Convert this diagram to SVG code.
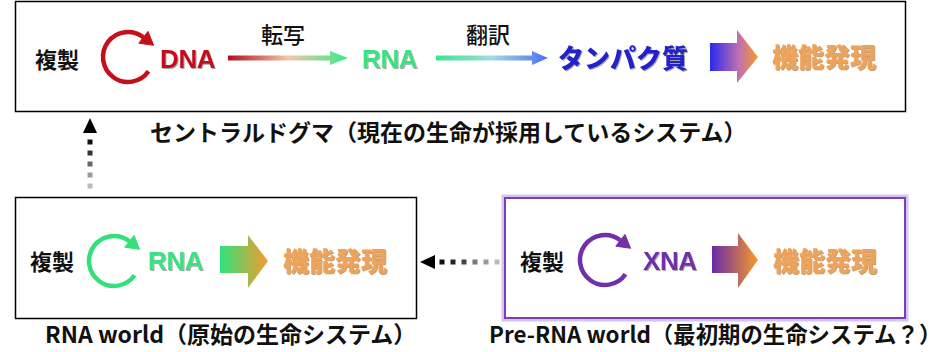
<svg xmlns="http://www.w3.org/2000/svg" width="952" height="352" viewBox="0 0 952 352">
<style>
.box{fill:#fff;stroke:#000;stroke-width:1.5}
.jp{font-family:"Noto Sans CJK JP","Noto Sans",sans-serif;font-weight:700;fill:#111}
.lbl{font-size:22px}
.med{font-weight:500}
.cap{font-size:23px}
.na{font-family:"Liberation Sans",Arial,sans-serif;font-weight:700;font-size:26px;letter-spacing:-0.4px}
.fx{font-family:"Noto Sans CJK JP","Noto Sans",sans-serif;font-weight:900;font-size:26px;fill:#eea35a}
.prot{font-family:"Noto Sans CJK JP","Noto Sans",sans-serif;font-weight:900;font-size:26px;fill:#2020c8}
</style>
<defs>
<filter id="sh" x="-10%" y="-20%" width="130%" height="150%">
<feDropShadow dx="1" dy="1" stdDeviation="0.7" flood-color="#000" flood-opacity="0.35"/>
</filter>
<filter id="shO" x="-10%" y="-20%" width="130%" height="150%">
<feDropShadow dx="1" dy="1" stdDeviation="0.6" flood-color="#a05a10" flood-opacity="0.6"/>
</filter>
<g id="cyc">
<path d="M20.5,14.3 A25,25 0 1 1 15.4,-19.7" fill="none" stroke="currentColor" stroke-width="4.5"/>
<polygon points="10.8,-13.8 20.0,-25.6 25.6,-11.7" fill="currentColor" stroke="currentColor" stroke-width="1" stroke-linejoin="round"/>
</g>
<linearGradient id="g1" gradientUnits="userSpaceOnUse" x1="228" y1="0" x2="348" y2="0">
<stop offset="0" stop-color="#b0101c"/>
<stop offset="0.5" stop-color="#f2c8a8"/>
<stop offset="1" stop-color="#38e88a"/>
</linearGradient>
<linearGradient id="g2" gradientUnits="userSpaceOnUse" x1="436" y1="0" x2="548" y2="0">
<stop offset="0" stop-color="#38e88a"/>
<stop offset="0.5" stop-color="#a8d8e0"/>
<stop offset="1" stop-color="#4a6ef0"/>
</linearGradient>
<linearGradient id="gb" x1="0" y1="0" x2="1" y2="0">
<stop offset="0" stop-color="#2a28f0"/>
<stop offset="0.6" stop-color="#c070b0"/>
<stop offset="1" stop-color="#f79a2c"/>
</linearGradient>
<linearGradient id="gg" x1="0" y1="0" x2="1" y2="0">
<stop offset="0" stop-color="#30e27c"/>
<stop offset="1" stop-color="#f79a2c"/>
</linearGradient>
<linearGradient id="gp" x1="0" y1="0" x2="1" y2="0">
<stop offset="0" stop-color="#6a2aa8"/>
<stop offset="1" stop-color="#f79a2c"/>
</linearGradient>
</defs>

<g id="central-dogma">
<rect class="box" x="15.5" y="1.5" width="890" height="110"/>
<text class="jp lbl" x="35" y="68">複製</text>
<use href="#cyc" x="128" y="57" style="color:#c4101c"/>
<text class="na" x="160" y="68" fill="#c4101c" filter="url(#sh)">DNA</text>
<text class="jp lbl med" x="283" y="43" text-anchor="middle">転写</text>
<text class="na" x="362" y="68" fill="#3ce080" filter="url(#sh)">RNA</text>
<text class="jp lbl med" x="488" y="43" text-anchor="middle">翻訳</text>
<text class="prot" x="558" y="68" filter="url(#sh)">タンパク質</text>
<polygon points="710,43 737,43 737,30 758,57 737,83 737,71 710,71" fill="url(#gb)"/>
<text class="fx" x="772" y="67" filter="url(#shO)">機能発現</text>
</g>

<g id="rna-world">
<rect class="box" x="15.5" y="197.5" width="401" height="121"/>
<text class="jp lbl" x="30" y="270">複製</text>
<use href="#cyc" x="114" y="261" style="color:#33e07a"/>
<text class="na" x="148" y="270" fill="#3ce080" filter="url(#sh)">RNA</text>
<polygon points="220,246 248,246 248,235 268,261 248,288 248,273 220,273" fill="url(#gg)"/>
<text class="fx" x="283" y="271" filter="url(#shO)">機能発現</text>
</g>

<g id="pre-rna-world">
<rect x="505" y="198" width="400" height="120" fill="none" stroke="#d6c4ee" stroke-width="7"/>
<rect x="505" y="198" width="400" height="120" fill="#fff" stroke="#7a3fb8" stroke-width="2"/>
<text class="jp lbl" x="520" y="270">複製</text>
<use href="#cyc" x="605" y="260" style="color:#7030a8"/>
<text class="na" x="643" y="270" fill="#7030a8" filter="url(#sh)">XNA</text>
<polygon points="712,246 738,246 738,233 758,260 738,288 738,273 712,273" fill="url(#gp)"/>
<text class="fx" x="773" y="271" filter="url(#shO)">機能発現</text>
</g>

<g id="captions">
<text class="jp cap" x="150" y="141">セントラルドグマ（現在の生命が採用しているシステム）</text>
<text class="jp cap" x="45" y="343">RNA world（原始の生命システム）</text>
<text class="jp" x="489" y="343" font-size="22.4">Pre-RNA world（最初期の生命システム？）</text>
</g>

<g id="connectors">
<polygon points="228,55.5 330,55.5 330,51 348,58 330,65 330,60.5 228,60.5" fill="url(#g1)"/>
<polygon points="436,55.5 532,55.5 532,51 548,58 532,65 532,60.5 436,60.5" fill="url(#g2)"/>
<polygon points="83,133 97,133 90,118" fill="#000"/>
<rect x="87.5" y="139.5" width="5" height="5" fill="#111"/>
<rect x="87.5" y="150.5" width="5" height="5" fill="#333"/>
<rect x="87.5" y="161.5" width="5" height="5" fill="#666"/>
<rect x="87.5" y="172.5" width="5" height="5" fill="#999"/>
<rect x="87.5" y="183.5" width="5" height="5" fill="#bbb"/>
<polygon points="435,255 435,269 420,262" fill="#000"/>
<rect x="439.5" y="259.5" width="5" height="5" fill="#111"/>
<rect x="450.5" y="259.5" width="5" height="5" fill="#222"/>
<rect x="461.5" y="259.5" width="5" height="5" fill="#444"/>
<rect x="472.5" y="259.5" width="5" height="5" fill="#777"/>
<rect x="483.5" y="259.5" width="5" height="5" fill="#999"/>
<rect x="494.5" y="259.5" width="5" height="5" fill="#bbb"/>
</g>
</svg>
